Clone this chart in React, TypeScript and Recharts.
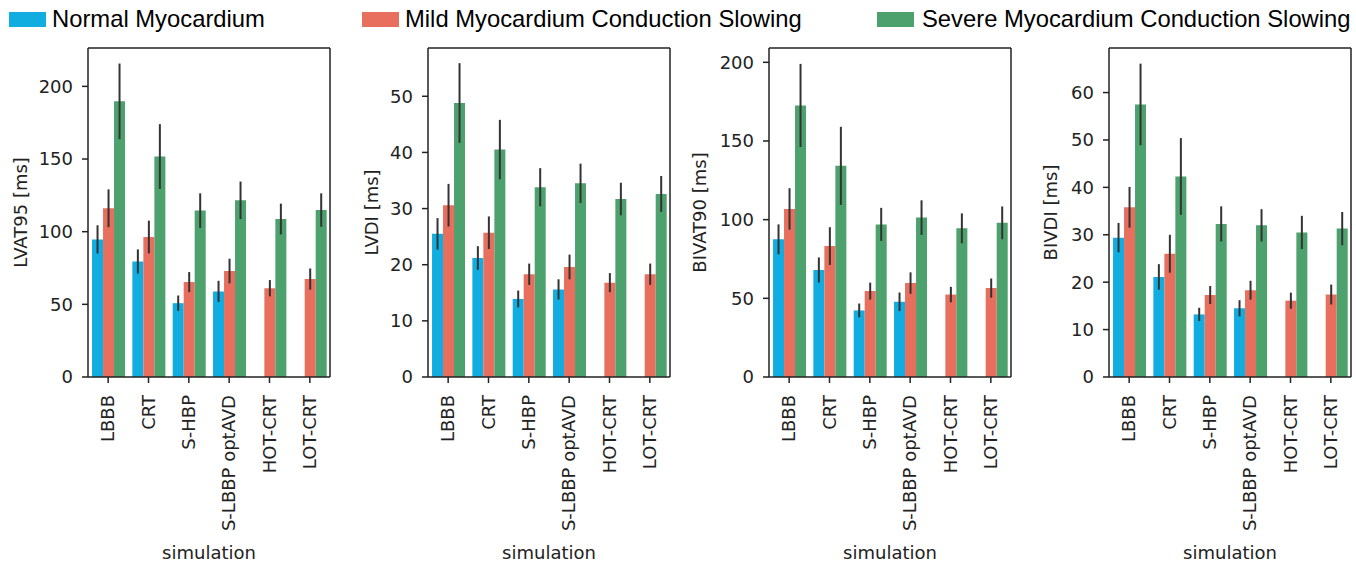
import React from 'react';
import { BarChart, Bar, XAxis, YAxis, ErrorBar, CartesianGrid } from 'recharts';

const categories = ['LBBB', 'CRT', 'S-HBP', 'S-LBBP optAVD', 'HOT-CRT', 'LOT-CRT'];

// LVAT95
const lvat95Normal = [94.7, 79.5, 50.8, 58.9, null, null];
const lvat95NormalErr = [9.7, 8.3, 5.3, 7.3, null, null];
const lvat95Mild = [116.1, 96.3, 65.3, 72.9, 61.1, 67.4];
const lvat95MildErr = [13, 11.3, 6.9, 8.5, 5.6, 7.3];
const lvat95Severe = [189.7, 151.7, 114.5, 121.6, 108.7, 114.9];
const lvat95SevereErr = [26, 22.3, 11.9, 12.9, 10.6, 11.5];
const lvat95Ticks = [0, 50, 100, 150, 200];

// LVDI
const lvdiNormal = [25.5, 21.2, 13.9, 15.6, null, null];
const lvdiNormalErr = [2.8, 2.1, 1.5, 1.8, null, null];
const lvdiMild = [30.6, 25.7, 18.3, 19.6, 16.8, 18.3];
const lvdiMildErr = [3.8, 2.9, 1.9, 2.2, 1.7, 1.9];
const lvdiSevere = [48.8, 40.5, 33.8, 34.5, 31.7, 32.6];
const lvdiSevereErr = [7.1, 5.3, 3.4, 3.5, 2.9, 3.2];
const lvdiTicks = [0, 10, 20, 30, 40, 50];

// BIVAT90
const bivat90Normal = [87.5, 68, 42.3, 47.8, null, null];
const bivat90NormalErr = [9.5, 8, 4.4, 5.9, null, null];
const bivat90Mild = [106.8, 83.2, 54.6, 59.7, 52.4, 56.5];
const bivat90MildErr = [13.2, 12, 5.4, 6.8, 4.9, 6.1];
const bivat90Severe = [172.6, 134.2, 97, 101.3, 94.5, 98];
const bivat90SevereErr = [26.4, 24.8, 10.5, 11, 9.5, 10.4];
const bivat90Ticks = [0, 50, 100, 150, 200];

// BIVDI
const bivdiNormal = [29.4, 21.1, 13.2, 14.5, null, null];
const bivdiNormalErr = [3.1, 2.7, 1.4, 1.7, null, null];
const bivdiMild = [35.8, 26, 17.3, 18.3, 16.1, 17.4];
const bivdiMildErr = [4.3, 4, 1.9, 2, 1.7, 2.1];
const bivdiSevere = [57.5, 42.3, 32.3, 32, 30.5, 31.3];
const bivdiSevereErr = [8.6, 8.1, 3.7, 3.4, 3.5, 3.5];
const bivdiTicks = [0, 10, 20, 30, 40, 50, 60];

const seriesNames = ['Normal Myocardium', 'Mild Myocardium Conduction Slowing', 'Severe Myocardium Conduction Slowing'];
const colors = ['#12ade0', '#e86f5e', '#4ca16d'];

const rows = (n: any[], ne: any[], m: any[], me: any[], s: any[], se: any[]) =>
  categories.map((c, i) => ({
    sim: c,
    normal: n[i], normalErr: ne[i],
    mild: m[i], mildErr: me[i],
    severe: s[i], severeErr: se[i],
  }));

const panels = [
  { label: 'LVAT95 [ms]', ticks: lvat95Ticks, max: 226.4, left: 88, labelOff: 21,
    data: rows(lvat95Normal, lvat95NormalErr, lvat95Mild, lvat95MildErr, lvat95Severe, lvat95SevereErr) },
  { label: 'LVDI [ms]', ticks: lvdiTicks, max: 58.6, left: 428, labelOff: 32,
    data: rows(lvdiNormal, lvdiNormalErr, lvdiMild, lvdiMildErr, lvdiSevere, lvdiSevereErr) },
  { label: 'BIVAT90 [ms]', ticks: bivat90Ticks, max: 209.1, left: 769, labelOff: 19,
    data: rows(bivat90Normal, bivat90NormalErr, bivat90Mild, bivat90MildErr, bivat90Severe, bivat90SevereErr) },
  { label: 'BIVDI [ms]', ticks: bivdiTicks, max: 69.4, left: 1109, labelOff: 30,
    data: rows(bivdiNormal, bivdiNormalErr, bivdiMild, bivdiMildErr, bivdiSevere, bivdiSevereErr) },
];

const FONT = 'DejaVu Sans';
const INK = '#222';
const AXIS_W = 88;
const PLOT_W = 242;
const TOP = 48;

const XTick = (props: any) => {
  const { x, y, payload } = props;
  return (
    <text x={x} y={y} transform={`rotate(-90, ${x}, ${y})`} textAnchor="end" dx={-10} dy="0.35em"
      fontSize={18} fill={INK} fontFamily={FONT}>
      {payload.value}
    </text>
  );
};

const Panel = ({ p }: { p: any }) => (
  <div style={{ position: 'absolute', left: p.left - AXIS_W, top: 0 }}>
    <BarChart width={335} height={563} data={p.data} margin={{ top: TOP, right: 5, bottom: 0, left: 0 }}
      barCategoryGap="10%" barGap={0}>
      {/* top and right spines */}
      <CartesianGrid horizontalPoints={[TOP]} verticalPoints={[AXIS_W + PLOT_W]} stroke={INK} strokeWidth={1.5} />
      <XAxis dataKey="sim" height={186} tick={<XTick />} interval={0} tickSize={6} tickMargin={2}
        axisLine={{ stroke: INK, strokeWidth: 1.5 }} tickLine={{ stroke: INK, strokeWidth: 1.5 }}
        label={{ value: 'simulation', position: 'insideBottom', offset: 4, fontSize: 18, fill: INK, fontFamily: FONT }} />
      <YAxis width={AXIS_W} domain={[0, p.max]} ticks={p.ticks} allowDataOverflow tickSize={6} tickMargin={9}
        tick={{ fontSize: 18, fill: INK, fontFamily: FONT }}
        axisLine={{ stroke: INK, strokeWidth: 1.5 }} tickLine={{ stroke: INK, strokeWidth: 1.5 }}
        label={{ value: p.label, angle: -90, position: 'insideLeft', offset: p.labelOff, fontSize: 18, fill: INK,
          fontFamily: FONT, style: { textAnchor: 'middle' } }} />
      <Bar dataKey="normal" name={seriesNames[0]} fill={colors[0]} isAnimationActive={false}>
        <ErrorBar dataKey="normalErr" width={0} stroke="#333" strokeWidth={2} direction="y" />
      </Bar>
      <Bar dataKey="mild" name={seriesNames[1]} fill={colors[1]} isAnimationActive={false}>
        <ErrorBar dataKey="mildErr" width={0} stroke="#333" strokeWidth={2} direction="y" />
      </Bar>
      <Bar dataKey="severe" name={seriesNames[2]} fill={colors[2]} isAnimationActive={false}>
        <ErrorBar dataKey="severeErr" width={0} stroke="#333" strokeWidth={2} direction="y" />
      </Bar>
    </BarChart>
  </div>
);

const legendItems = [
  { sq: 9, tx: 52 },
  { sq: 362, tx: 405 },
  { sq: 877, tx: 922 },
];

export default function App() {
  return (
    <div style={{ position: 'absolute', left: 0, top: 0, width: 1356, height: 563, overflow: 'hidden', background: '#fff' }}>
      {legendItems.map((it, i) => (
        <React.Fragment key={i}>
          <div style={{ position: 'absolute', left: it.sq, top: 12, width: 37, height: 15, background: colors[i] }} />
          <div style={{ position: 'absolute', left: it.tx, top: 4, fontSize: 23.8, lineHeight: '30px',
            fontFamily: 'Liberation Sans', color: '#000', whiteSpace: 'nowrap' }}>
            {seriesNames[i]}
          </div>
        </React.Fragment>
      ))}
      {panels.map((p, i) => <Panel key={i} p={p} />)}
    </div>
  );
}
